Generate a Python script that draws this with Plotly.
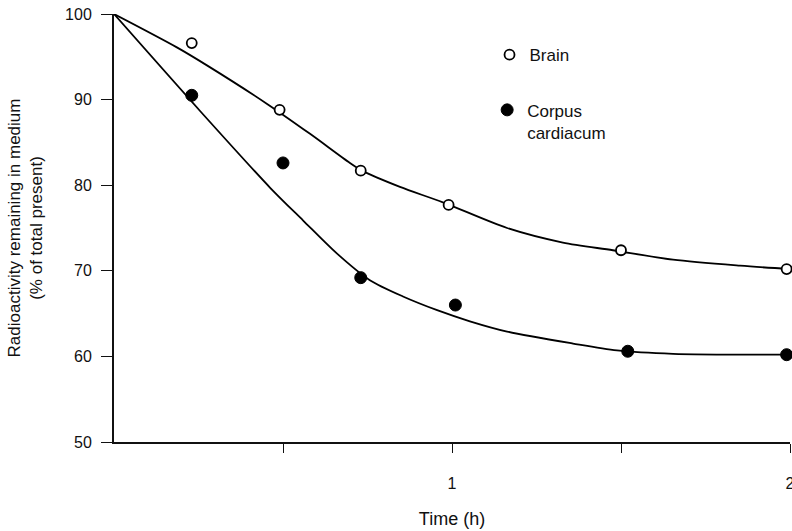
import plotly.graph_objects as go

# Measured points
brain_t = [0.23, 0.49, 0.73, 0.99, 1.50, 1.99]
brain_v = [96.6, 88.8, 81.7, 77.7, 72.4, 70.2]
cc_t = [0.23, 0.50, 0.73, 1.01, 1.52, 1.99]
cc_v = [90.5, 82.6, 69.2, 66.0, 60.6, 60.2]

# Fitted curves
brain_curve_t = [0.0, 0.186, 0.275, 0.453, 0.58, 0.698, 0.734, 0.846, 0.973, 1.163, 1.328, 1.476, 1.654, 1.852, 2.0]
brain_curve_v = [100.0, 96.1, 94.0, 89.5, 86.0, 82.6, 81.7, 79.8, 78.0, 75.0, 73.3, 72.4, 71.3, 70.6, 70.2]
cc_curve_t = [0.0, 0.254, 0.462, 0.559, 0.66, 0.757, 0.855, 0.956, 1.053, 1.163, 1.358, 1.488, 1.654, 1.95, 2.0]
cc_curve_v = [100.0, 88.7, 79.7, 75.9, 72.0, 68.9, 67.0, 65.4, 64.1, 62.9, 61.5, 60.7, 60.3, 60.2, 60.2]

x_tickvals = [0.5, 1, 1.5, 2]
x_ticktext = ["", "1", "", "2"]
y_tickvals = [50, 60, 70, 80, 90, 100]

FONT = "Liberation Sans, Arial, Helvetica, sans-serif"

fig = go.Figure()
for ct, cv in ((brain_curve_t, brain_curve_v), (cc_curve_t, cc_curve_v)):
    fig.add_trace(go.Scatter(x=ct, y=cv, mode="lines",
                             line=dict(color="black", width=1.8, shape="spline", smoothing=0.8),
                             showlegend=False, hoverinfo="skip", cliponaxis=False))
fig.add_trace(go.Scatter(x=brain_t, y=brain_v, mode="markers", name="Brain",
                         marker=dict(symbol="circle", size=10, color="white",
                                     line=dict(color="black", width=1.8)),
                         cliponaxis=False, legend="legend"))
fig.add_trace(go.Scatter(x=cc_t, y=cc_v, mode="markers", name="Corpus<br>cardiacum",
                         marker=dict(symbol="circle", size=12, color="black",
                                     line=dict(color="black", width=1)),
                         cliponaxis=False, legend="legend2"))

fig.update_layout(
    width=792, height=531,
    margin=dict(l=114, r=2, t=14, b=89),
    paper_bgcolor="white", plot_bgcolor="white",
    font=dict(family=FONT, size=16, color="#111"),
    legend=dict(x=0.5555, y=0.946, xanchor="left", yanchor="top", valign="top",
                bgcolor="rgba(0,0,0,0)", font=dict(size=17), itemwidth=30),
    legend2=dict(x=0.552, y=0.817, xanchor="left", yanchor="top", valign="top",
                 bgcolor="rgba(0,0,0,0)", font=dict(size=17), itemwidth=30),
    xaxis=dict(range=[0, 2], tickvals=x_tickvals, ticktext=x_ticktext,
               ticks="outside", ticklen=9, tickwidth=1.3, tickcolor="#111",
               showline=True, linecolor="#111", linewidth=2,
               showgrid=False, zeroline=False, ticklabelstandoff=17,
               ticklabeloverflow="allow",
               automargin=False, tickfont=dict(size=16),
               title=dict(text="Time (h)", standoff=21, font=dict(size=18))),
    yaxis=dict(range=[50, 100], tickvals=y_tickvals,
               ticks="outside", ticklen=11, tickwidth=1.3, tickcolor="#111",
               showline=True, linecolor="#111", linewidth=2,
               showgrid=False, zeroline=False, ticklabelstandoff=6,
               automargin=False, tickfont=dict(size=16),
               title=dict(text="Radioactivity remaining in medium<br>(% of total present)",
                          standoff=18, font=dict(size=17))),
)

fig.write_html("out.html", config={"displayModeBar": False},
               post_script="document.body.style.margin='0';")
